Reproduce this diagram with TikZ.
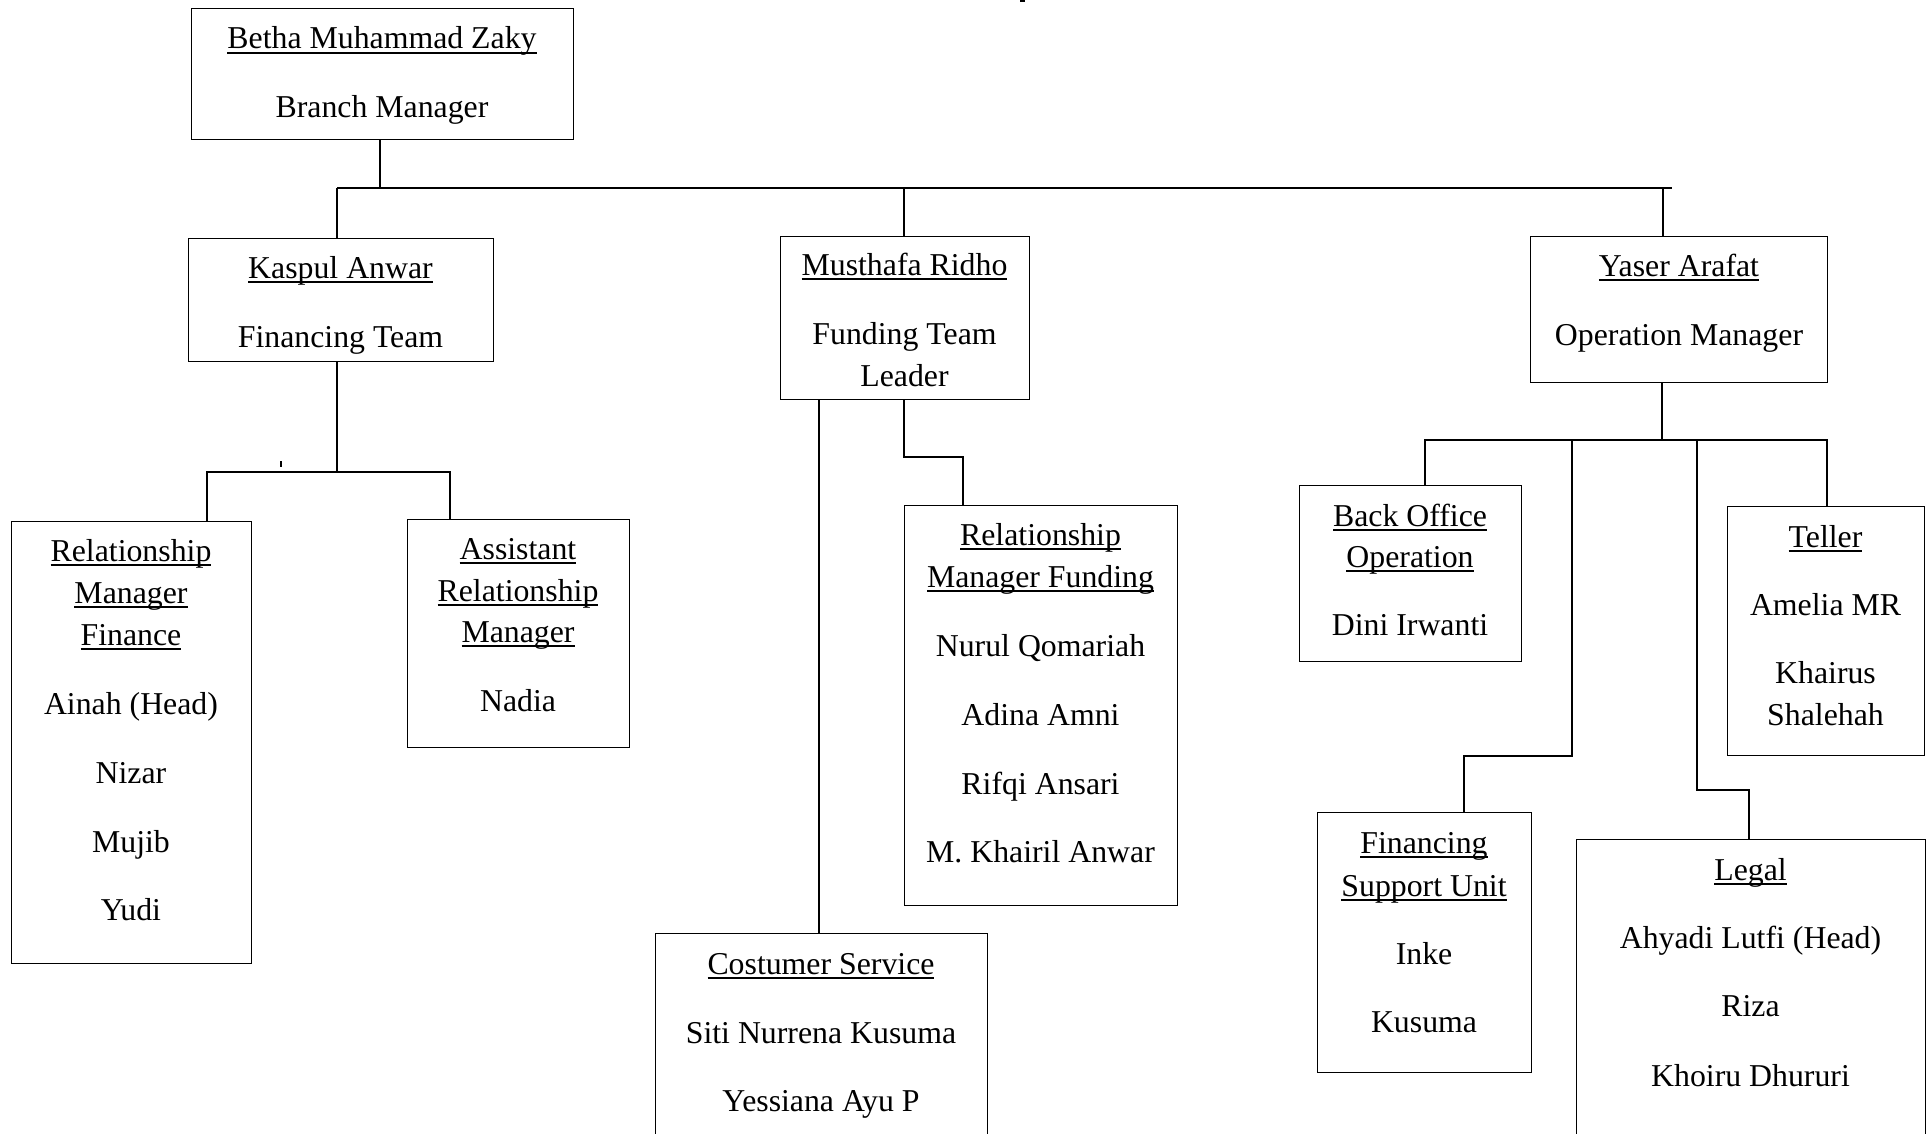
\documentclass[tikz,border=0pt]{standalone}
\usepackage{fontspec}
\setmainfont{Liberation Serif}
\newcommand\myul[1]{\setbox0\hbox{#1}\rlap{\rule[-4.8pt]{\wd0}{1.6pt}}\box0}
\newcommand\txtline[4]{\node[txt] (#1) at (#2,#3) {#4};}
\begin{document}
\begin{tikzpicture}[x=1pt,y=-1pt,
  box/.style={draw, line width=1.2pt, rectangle, inner sep=0pt, anchor=north west},
  txt/.style={anchor=base, inner sep=0pt, font=\fontsize{31.8}{42}\selectfont},
  conn/.style={line width=2pt},
  busline/.style={line width=2.6pt}]
\useasboundingbox (0,0) rectangle (1930,1134);
\fill[white] (0,0) rectangle (1930,1134);
\clip (0,0) rectangle (1930,1134);

% boxes
\node[box, minimum width=382pt, minimum height=131pt] (bm) at (191,8) {};
\node[box, minimum width=305pt, minimum height=123pt] (ka) at (188,238) {};
\node[box, minimum width=249pt, minimum height=163pt] (mr) at (780,236) {};
\node[box, minimum width=297pt, minimum height=146pt] (ya) at (1530,236) {};
\node[box, minimum width=240pt, minimum height=442pt] (rmf) at (11,521) {};
\node[box, minimum width=222pt, minimum height=228pt] (arm) at (407,519) {};
\node[box, minimum width=273pt, minimum height=400pt] (rmfd) at (904,505) {};
\node[box, minimum width=332pt, minimum height=260pt] (cs) at (655,933) {};
\node[box, minimum width=222pt, minimum height=176pt] (bo) at (1299,485) {};
\node[box, minimum width=197pt, minimum height=249pt] (te) at (1727,506) {};
\node[box, minimum width=214pt, minimum height=260pt] (fsu) at (1317,812) {};
\node[box, minimum width=349pt, minimum height=350pt] (lg) at (1576,839) {};

% texts
\txtline{bm1}{382}{49}{\myul{Betha Muhammad Zaky}}
\txtline{bm2}{382}{118}{Branch Manager}
\txtline{ka1}{340.5}{278}{\myul{Kaspul Anwar}}
\txtline{ka2}{340.5}{347}{Financing Team}
\txtline{mr1}{904.5}{275}{\myul{Musthafa Ridho}}
\txtline{mr2}{904.5}{344}{Funding Team}
\txtline{mr3}{904.5}{386}{Leader}
\txtline{ya1}{1679}{276}{\myul{Yaser Arafat}}
\txtline{ya2}{1679}{345}{Operation Manager}
\txtline{rmf1}{131}{561}{\myul{Relationship}}
\txtline{rmf2}{131}{603}{\myul{Manager}}
\txtline{rmf3}{131}{645}{\myul{Finance}}
\txtline{rmf4}{131}{714}{Ainah (Head)}
\txtline{rmf5}{131}{783}{Nizar}
\txtline{rmf6}{131}{852}{Mujib}
\txtline{rmf7}{131}{920}{Yudi}
\txtline{arm1}{518}{559}{\myul{Assistant}}
\txtline{arm2}{518}{601}{\myul{Relationship}}
\txtline{arm3}{518}{642}{\myul{Manager}}
\txtline{arm4}{518}{711}{Nadia}
\txtline{rmfd1}{1040.5}{545}{\myul{Relationship}}
\txtline{rmfd2}{1040.5}{587}{\myul{Manager Funding}}
\txtline{rmfd3}{1040.5}{656}{Nurul Qomariah}
\txtline{rmfd4}{1040.5}{725}{Adina Amni}
\txtline{rmfd5}{1040.5}{794}{Rifqi Ansari}
\txtline{rmfd6}{1040.5}{862}{M. Khairil Anwar}
\txtline{cs1}{821}{974}{\myul{Costumer Service}}
\txtline{cs2}{821}{1043}{Siti Nurrena Kusuma}
\txtline{cs3}{821}{1111}{Yessiana Ayu P}
\txtline{bo1}{1410}{526}{\myul{Back Office}}
\txtline{bo2}{1410}{567}{\myul{Operation}}
\txtline{bo3}{1410}{635}{Dini Irwanti}
\txtline{te1}{1825.5}{547}{\myul{Teller}}
\txtline{te2}{1825.5}{615}{Amelia MR}
\txtline{te3}{1825.5}{683}{Khairus}
\txtline{te4}{1825.5}{725}{Shalehah}
\txtline{fsu1}{1424}{853}{\myul{Financing}}
\txtline{fsu2}{1424}{896}{\myul{Support Unit}}
\txtline{fsu3}{1424}{964}{Inke}
\txtline{fsu4}{1424}{1032}{Kusuma}
\txtline{lg1}{1750.5}{880}{\myul{Legal}}
\txtline{lg2}{1750.5}{948}{Ahyadi Lutfi (Head)}
\txtline{lg3}{1750.5}{1016}{Riza}
\txtline{lg4}{1750.5}{1086}{Khoiru Dhururi}

% top level connectors
\coordinate (j0) at (380,188);
\coordinate (b1L) at (337,188);
\coordinate (b1R) at (1672,188);
\coordinate (j2) at (904,188);
\coordinate (j3) at (1663,188);
\draw[conn] (j0 |- bm.south) -- (j0);
\draw[busline] (b1L) -- (b1R);
\draw[conn] (b1L) -- (b1L |- ka.north);
\draw[conn] (j2) -- (j2 |- mr.north);
\draw[conn] (j3) -- (j3 |- ya.north);

% financing team
\coordinate (b2M) at (337,472);
\coordinate (b2L) at (207,472);
\coordinate (b2R) at (450,472);
\draw[conn] (b2M |- ka.south) -- (b2M);
\draw[conn] (b2L |- rmf.north) -- (b2L) -- (b2R) -- (b2R |- arm.north);
\coordinate (tk) at (281,461);
\draw[conn] (tk) -- ++(0,6);

% funding team
\coordinate (m1) at (819,0);
\draw[conn] (m1 |- mr.south) -- (m1 |- cs.north);
\coordinate (m2) at (904,457);
\coordinate (m3) at (963,457);
\draw[conn] (m2 |- mr.south) -- (m2) -- (m3) -- (m3 |- rmfd.north);

% operation
\coordinate (y0) at (1662,440);
\coordinate (b3L) at (1425,440);
\coordinate (b3R) at (1827,440);
\draw[conn] (y0 |- ya.south) -- (y0);
\draw[conn] (b3L |- bo.north) -- (b3L) -- (b3R) -- (b3R |- te.north);
\coordinate (f1) at (1572,440);
\coordinate (f2) at (1572,756);
\coordinate (f3) at (1464,756);
\draw[conn] (f1) -- (f2) -- (f3) -- (f3 |- fsu.north);
\coordinate (l1) at (1697,440);
\coordinate (l2) at (1697,790);
\coordinate (l3) at (1749,790);
\draw[conn] (l1) -- (l2) -- (l3) -- (l3 |- lg.north);

% stray mark at top edge
\coordinate (sm) at (1020,0.8);
\draw[line width=1.6pt] (sm) -- ++(5,0);
\end{tikzpicture}
\end{document}
